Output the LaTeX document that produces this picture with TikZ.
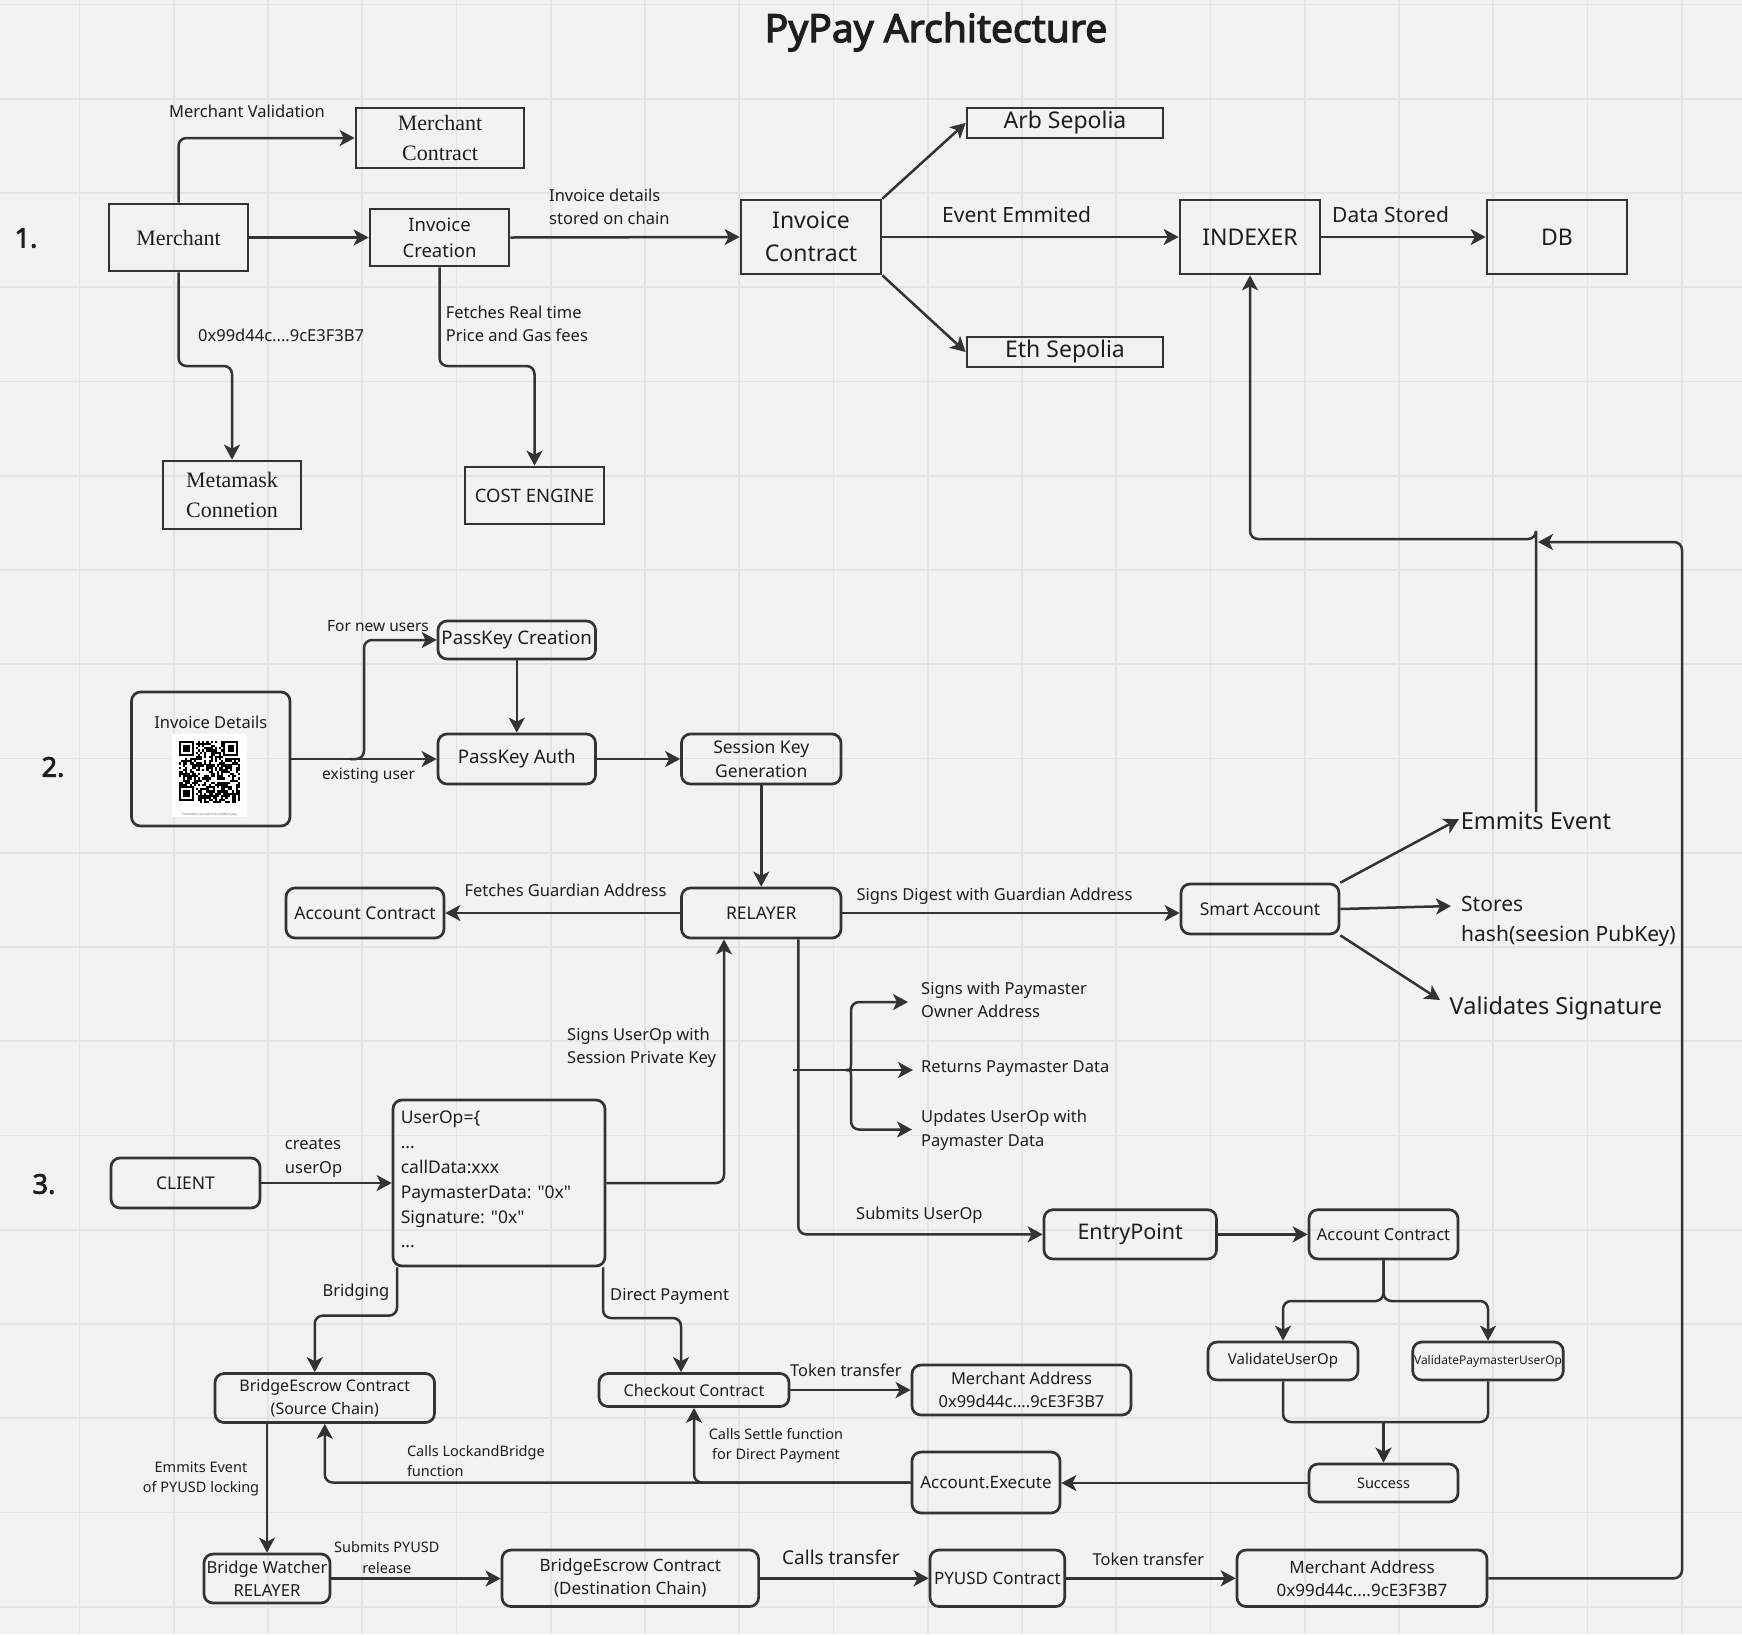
\documentclass[tikz,border=0pt]{standalone}
\usepackage{fontspec}
\setsansfont[Ligatures=TeXOff]{Noto Sans}
\newfontfamily\boldsans[FakeBold=3]{Noto Sans}
\newfontfamily\serfont{Liberation Serif}
\usetikzlibrary{arrows.meta}
\definecolor{bg}{HTML}{F2F2F2}
\definecolor{gridc}{HTML}{E4E4E4}
\definecolor{lc}{HTML}{333333}
\definecolor{tc}{HTML}{1E1E1E}
\newcommand{\qq}{\symbol{34}}
\tikzset{
  sq/.style={draw=lc, line width=2.7pt, inner sep=0pt, align=center, text=tc},
  rd/.style={sq, rounded corners=9pt},
  fs/.style 2 args={font=\sffamily\fontsize{#1}{#2}\selectfont},
  fr/.style 2 args={font=\serfont\fontsize{#1}{#2}\selectfont},
  lbl/.style={inner sep=0pt, text=tc, align=left},
  arr/.style={draw=lc, line width=2.5pt, rounded corners=8pt, -{Stealth[length=15pt,width=16pt,inset=4pt]}},
  ln/.style={draw=lc, line width=2.5pt, rounded corners=8pt},
  gridline/.style={draw=gridc, line width=1.8pt},
}
\begin{document}
\begin{tikzpicture}[x=1pt,y=-1pt]
\useasboundingbox (0,0) rectangle (1742,1634);
\fill[bg] (0,0) rectangle (1742,1634);
\foreach \k in {0,...,17}{
  \draw[gridline] (79.5+94.25*\k,0) -- (79.5+94.25*\k,1634);
  \draw[gridline] (0,4.5+94.25*\k) -- (1742,4.5+94.25*\k);
}

% title and section numbers
\node[lbl, font=\boldsans\fontsize{39}{48}\selectfont] (title) at (936,32) {PyPay Architecture};
\node[lbl, font=\boldsans\fontsize{27}{32}\selectfont] (s1) at (26,238) {1.};
\node[lbl, font=\boldsans\fontsize{27}{32}\selectfont] (s2) at (53,767) {2.};
\node[lbl, font=\boldsans\fontsize{27}{32}\selectfont] (s3) at (44,1184) {3.};

% ---------- section 1 ----------
\node[sq, fr={22}{30}, minimum width=168, minimum height=60] (mcontract) at (440,138) {Merchant\\Contract};
\node[sq, fr={22}{30}, minimum width=139, minimum height=67] (merchant) at (178.5,237.5) {Merchant};
\node[sq, fs={18.5}{26}, minimum width=139, minimum height=57] (invcreate) at (439.5,237.5) {Invoice\\Creation};
\node[sq, fs={23}{33}, minimum width=140, minimum height=74] (invcontract) at (811,237) {Invoice\\Contract};
\node[sq, fr={22}{30}, minimum width=138, minimum height=68] (metamask) at (232,495) {Metamask\\Connetion};
\node[sq, fs={18.5}{24}, minimum width=139, minimum height=57] (cost) at (534.5,495.5) {COST ENGINE};
\node[sq, fs={23}{28}, minimum width=196, minimum height=30] (arb) at (1065,123) {\raisebox{-1.5pt}{Arb Sepolia}};
\node[sq, fs={23}{28}, minimum width=196, minimum height=30] (eth) at (1065,352) {\raisebox{-1.5pt}{Eth Sepolia}};
\node[sq, fs={23}{28}, minimum width=140, minimum height=74] (indexer) at (1250,237) {INDEXER};
\node[sq, fs={23}{28}, minimum width=140, minimum height=74] (db) at (1557,237) {DB};

\node[lbl, fs={16.5}{23}, anchor=west] (lmval) at (169,111) {Merchant Validation};
\node[lbl, fs={16.5}{23.5}, anchor=west] (linv) at (549,207) {Invoice details\\stored on chain};
\node[lbl, fs={16.5}{23}, anchor=west] (laddr) at (198,335) {0x99d44c....9cE3F3B7};
\node[lbl, fs={16.5}{23}, anchor=west] (lfetch) at (445.6,323.5) {Fetches Real time\\Price and Gas fees};
\node[lbl, fs={21}{26}, anchor=west] (levent) at (942,215) {Event Emmited};
\node[lbl, fs={21}{26}, anchor=west] (ldata) at (1332,215) {Data Stored};

\draw[arr] (merchant.north) |- (mcontract.west);
\draw[arr] (merchant.east) -- (invcreate.west);
\coordinate (m1) at (178.5,366);
\draw[arr] (merchant.south) -- (m1) -| (metamask.north);
\draw[arr] (invcreate.east) -- (invcontract.west);
\coordinate (c1) at (439.5,366);
\draw[arr] (invcreate.south) -- (c1) -| (cost.north);
\draw[arr] (invcontract.north east) -- (arb.west);
\draw[arr] (invcontract.south east) -- (eth.west);
\draw[arr] (invcontract.east) -- (indexer.west);
\draw[arr] (indexer.east) -- (db.west);

% ---------- section 2 ----------
\node[rd, minimum width=158.5, minimum height=134] (invdet) at (210.75,759) {};
\node[lbl, fs={16.5}{22}] (invdett) at (210.75,722.5) {Invoice Details};
% QR code
\fill[white] (171.7,734) rectangle (247.3,817.3);
\begin{scope}
\pgfmathsetseed{11}
\foreach \i in {0,...,28}{
  \foreach \j in {0,...,28}{
    \pgfmathtruncatemacro{\inf}{((\i<8) && (\j<8)) || ((\i>20) && (\j<8)) || ((\i<8) && (\j>20)) ? 1 : 0}
    \ifnum\inf=0
      \pgfmathtruncatemacro{\bit}{rnd<0.55 ? 1 : 0}
      \ifnum\bit=1
        \fill[black] (179+\i*2.11,740.7+\j*2.16) rectangle ++(2.15,2.2);
      \fi
    \fi
  }
}
\foreach \ox/\oy in {179/740.7, 223.3/740.7, 179/786.06}{
  \fill[black] (\ox,\oy) rectangle ++(14.77,15.12);
  \fill[white] (\ox+2.11,\oy+2.16) rectangle ++(10.55,10.8);
  \fill[black] (\ox+4.22,\oy+4.32) rectangle ++(6.33,6.48);
}
\end{scope}
\node[lbl, font=\sffamily\fontsize{3.3}{4}\selectfont, text=black!60] (qrcap) at (209.5,814.3) {Customer can scan this code to pay};

\node[rd, fs={18.7}{24}, minimum width=157.5, minimum height=38] (pkcreate) at (516.75,640) {PassKey Creation};
\node[rd, fs={18.7}{24}, minimum width=157.5, minimum height=50] (pkauth) at (516.75,759) {PassKey Auth};
\node[rd, fs={17.5}{24.5}, minimum width=159.5, minimum height=50] (skgen) at (761.25,759) {Session Key\\Generation};
\node[rd, fs={17.5}{24}, minimum width=159.5, minimum height=50] (relayer) at (761.25,913) {RELAYER};
\node[rd, fs={17.5}{24}, minimum width=158, minimum height=50] (acc1) at (365,913) {Account Contract};
\node[rd, fs={17.5}{24}, minimum width=158, minimum height=50] (smart) at (1260,909) {Smart Account};

\node[lbl, fs={15.5}{20}, anchor=west] (lnew) at (327,626) {For new users};
\node[lbl, fs={15.5}{20}, anchor=west] (lexist) at (322,776) {existing user};
\node[lbl, fs={16.5}{22}] (lguard) at (565.5,890) {Fetches Guardian Address};
\node[lbl, fs={16.5}{22}] (ldigest) at (994.5,896) {Signs Digest with Guardian Address};
\node[lbl, fs={23.5}{28}] (emits) at (1536,821) {Emmits Event};
\node[lbl, fs={21}{30}, anchor=west] (stores) at (1461,921) {Stores\\hash(seesion PubKey)};
\node[lbl, fs={23.5}{28}, anchor=west] (valsig) at (1449.5,1008.5) {Validates Signature};
\node[lbl, fs={16.5}{23.5}, anchor=west] (lsignpm) at (921,1000) {Signs with Paymaster\\Owner Address};
\node[lbl, fs={16.5}{23}, anchor=west] (lretpm) at (921,1069) {Returns Paymaster Data};
\node[lbl, fs={16.5}{23.5}, anchor=west] (lupd) at (921,1130) {Updates UserOp with\\Paymaster Data};
\node[lbl, fs={16.5}{23}, anchor=west] (lsession) at (567,1048) {Signs UserOp with\\Session Private Key};

\draw[arr] (invdet.east) -- (pkauth.west);
\coordinate (b0) at (350,759);
\coordinate (b1) at (364,700);
\draw[arr] (b0) -| (b1) |- (pkcreate.west);
\draw[arr] (pkcreate.south) -- (pkauth.north);
\draw[arr] (pkauth.east) -- (skgen.west);
\draw[arr] (skgen.south) -- (relayer.north);
\draw[arr] (relayer.west) -- (acc1.east);
\draw[arr] (relayer.east) -- (relayer.east -| smart.west);
\coordinate (cEmit) at (1459,819);
\coordinate (cStores) at (1451,906);
\coordinate (cVal) at (1440,1000);
\draw[arr] (smart.north east) -- (cEmit);
\draw[arr] (smart.east) -- (cStores);
\draw[arr] (smart.south east) -- (cVal);

% emits -> indexer
\coordinate (e1) at (1536,539);
\draw[arr] (emits.north) |- (e1) -| (indexer.south);

% brace from relayer line
\coordinate (bstub) at (793,1070);
\coordinate (bjoin) at (846,1070);
\coordinate (btop) at (851,1062);
\coordinate (bbot) at (851,1078);
\coordinate (cSigns) at (908,1002);
\coordinate (cRet) at (913,1070);
\coordinate (cUpd) at (912,1129.5);
\draw[arr] (bstub) -- (cRet);
\draw[ln, line cap=round] (bjoin) .. controls (851,1070) .. (btop);
\draw[ln, line cap=round] (bjoin) .. controls (851,1070) .. (bbot);
\draw[arr] (btop) |- (cSigns);
\draw[arr] (bbot) |- (cUpd);

% ---------- section 3 ----------
\node[rd, fs={17.5}{24}, minimum width=149, minimum height=50] (client) at (185.5,1183) {CLIENT};
\node[rd, minimum width=212, minimum height=166] (userop) at (499,1183) {};
\node[lbl, fs={17.5}{24.8}, anchor=north west] (uoptext) at (400.6,1111) {UserOp=\{\\...\\callData:xxx\\PaymasterData: \qq0x\qq\\Signature: \qq0x\qq\\...};
\node[rd, fs={16}{23}, minimum width=219.5, minimum height=49] (bes) at (324.75,1398) {BridgeEscrow Contract\\(Source Chain)};
\node[rd, fs={16.2}{22}, minimum width=190, minimum height=33] (checkout) at (694,1390) {Checkout Contract};
\node[rd, fs={16.5}{23}, minimum width=219, minimum height=50] (maddr1) at (1021.5,1390) {Merchant Address\\0x99d44c....9cE3F3B7};
\node[rd, fs={17}{23}, minimum width=148, minimum height=61] (accexec) at (986,1482.5) {Account.Execute};
\node[rd, fs={14.5}{20}, minimum width=149, minimum height=38] (success) at (1383.5,1483) {Success};
\node[rd, fs={16.6}{23.5}, minimum width=126, minimum height=49] (watcher) at (267,1578.5) {Bridge Watcher\\RELAYER};
\node[rd, fs={17}{23}, minimum width=256.6, minimum height=56.5] (bed) at (630.3,1578.25) {BridgeEscrow Contract\\(Destination Chain)};
\node[rd, fs={17}{23}, minimum width=134.7, minimum height=56.5] (pyusd) at (997.35,1578.25) {PYUSD Contract};
\node[rd, fs={17}{23}, minimum width=250, minimum height=56.5] (maddr2) at (1362,1578.25) {Merchant Address\\0x99d44c....9cE3F3B7};
\node[rd, fs={21.5}{26}, minimum width=172.5, minimum height=49.3] (entry) at (1130.25,1234.35) {EntryPoint};
\node[rd, fs={16.5}{22}, minimum width=149, minimum height=49.3] (acc2) at (1383.5,1234.35) {Account Contract};
\node[rd, fs={15}{20}, minimum width=150, minimum height=38] (vuo) at (1283,1361) {ValidateUserOp};
\node[rd, fs={12}{16}, minimum width=150.5, minimum height=38] (vpuo) at (1488,1361) {ValidatePaymasterUserOp};

\node[lbl, fs={16.5}{24}, anchor=west] (lcreates) at (284.7,1158) {creates\\userOp};
\node[lbl, fs={16.5}{22}] (lbridging) at (356,1292) {Bridging};
\node[lbl, fs={16.5}{22}, anchor=west] (ldirect) at (610,1296) {Direct Payment};
\node[lbl, fs={16.4}{22}, anchor=west] (ltok1) at (790,1370) {Token transfer};
\node[lbl, fs={16.5}{22}, anchor=west] (lsubmit) at (856,1215) {Submits UserOp};
\node[lbl, fs={14.5}{20}, anchor=west] (llock) at (406.8,1461) {Calls LockandBridge\\function};
\node[lbl, fs={14.5}{20}, align=center] (lsettle) at (776,1446) {Calls Settle function\\for Direct Payment};
\node[lbl, fs={14.5}{20}, align=center] (lemitlock) at (201,1479) {Emmits Event\\of PYUSD locking};
\node[lbl, fs={14.5}{20.5}, align=center] (lsubpy) at (386.8,1557.5) {Submits PYUSD\\release};
\node[lbl, fs={19}{24}, anchor=west] (lcalltr) at (782,1557.5) {Calls transfer};
\node[lbl, fs={16.4}{22}, anchor=west] (ltok2) at (1092.5,1559) {Token transfer};

\draw[arr] (client.east) -- (userop.west);
\draw[arr] (userop.east) -| ([xshift=-37.25]relayer.south);
\draw[arr] ([xshift=37]relayer.south) |- (entry.west);
\coordinate (u1) at (397,1315.6);
\draw[arr] ([xshift=-102]userop.south) -- (u1) -| ([xshift=-10]bes.north);
\coordinate (u2) at (603,1318);
\draw[arr] ([xshift=104]userop.south) -- (u2) -| ([xshift=-13]checkout.north);
\draw[arr] (checkout.east) -- (checkout.east -| maddr1.west);
\draw[arr] (success.west) -- (success.west -| accexec.east);
\draw[arr] (accexec.west) -| (checkout.south);
\draw[arr] (accexec.west) -| (bes.south);
\draw[arr] (watcher.north |- bes.south) -- (watcher.north);
\draw[arr] (watcher.east) -- (watcher.east -| bed.west);
\draw[arr] (bed.east) -- (pyusd.west);
\draw[arr] (pyusd.east) -- (maddr2.west);
\coordinate (rc) at (1682,542);
\coordinate (rend) at (1538,542);
\draw[arr] (maddr2.east) -| (rc) -- (rend);
\draw[arr] (entry.east) -- (acc2.west);
\coordinate (j1) at (1383.5,1301);
\coordinate (j2) at (1383.5,1422);
\draw[arr] (acc2.south) -- (j1) -| (vuo.north);
\draw[arr] (acc2.south) -- (j1) -| (vpuo.north);
\draw[ln] (vuo.south) |- (j2);
\draw[ln] (vpuo.south) |- (j2);
\draw[arr] (j2) -- (success.north);
\end{tikzpicture}
\end{document}
